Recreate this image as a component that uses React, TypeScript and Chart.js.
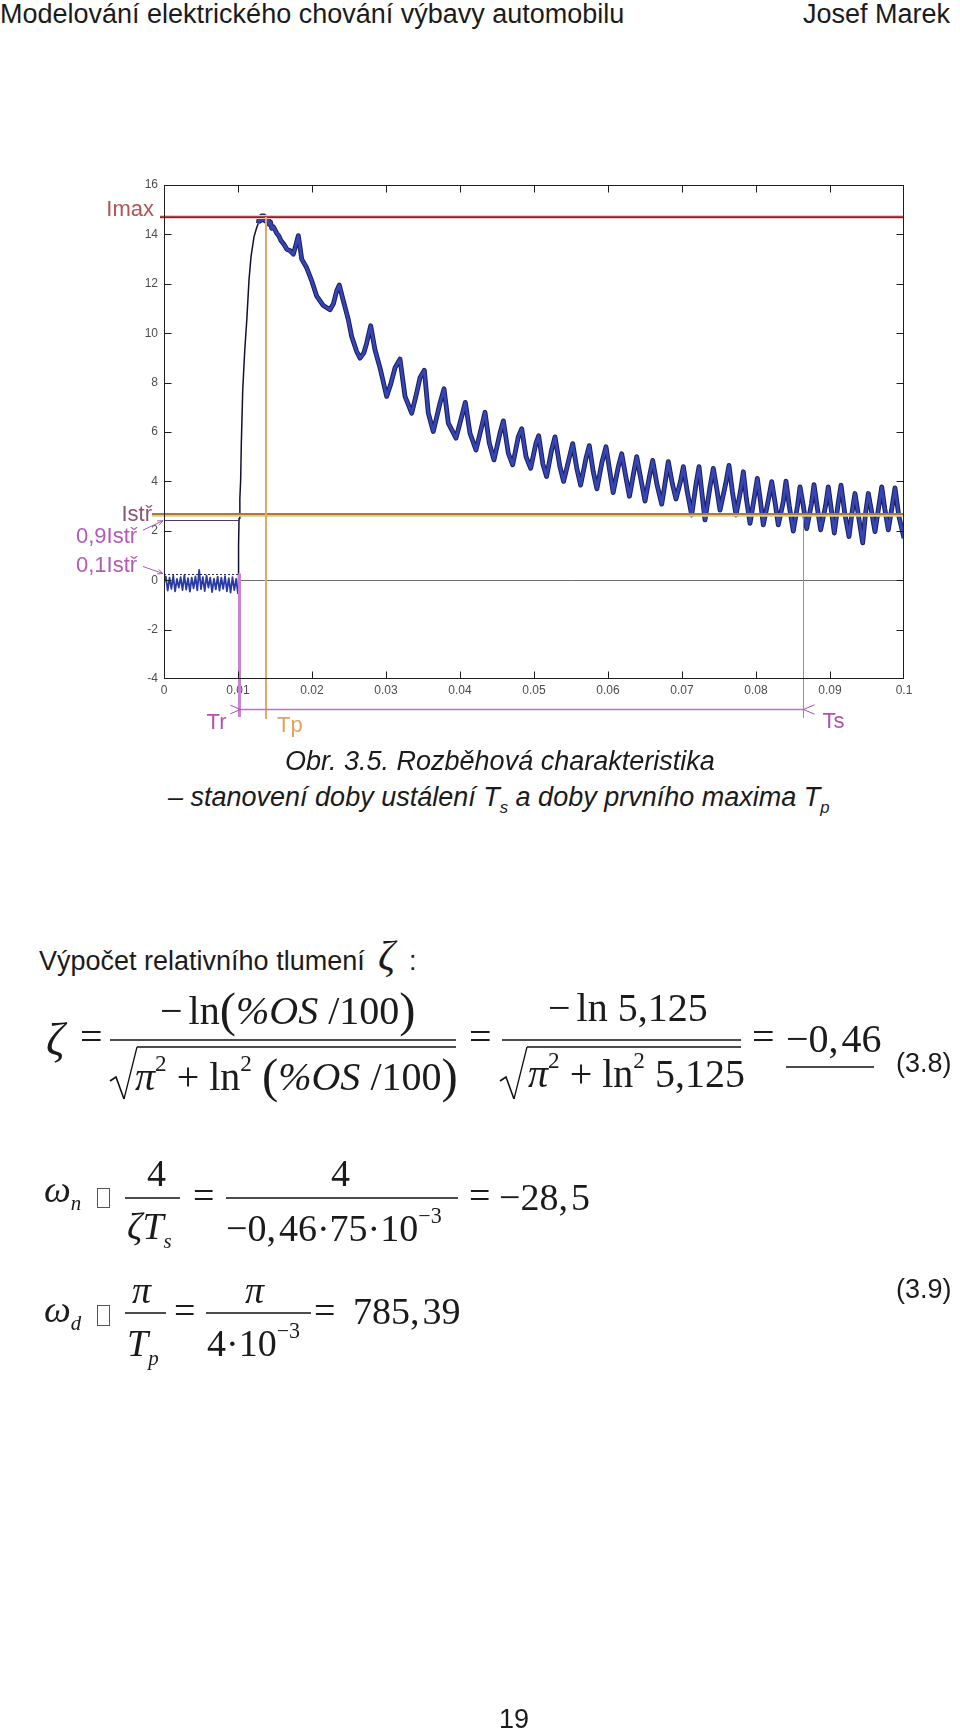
import React, { useEffect, useRef } from "react";
import { Chart, registerables } from "chart.js";

Chart.register(...registerables);

const SANS = '"Liberation Sans", Arial, Helvetica, sans-serif';
const SERIF = '"Liberation Serif", "Times New Roman", Times, serif';

// ---- axis ticks ----
const xTickValues = [0, 0.01, 0.02, 0.03, 0.04, 0.05, 0.06, 0.07, 0.08, 0.09, 0.1];
const xTickLabels = ["0", "0.01", "0.02", "0.03", "0.04", "0.05", "0.06", "0.07", "0.08", "0.09", "0.1"];
const yTickValues = [-4, -2, 0, 2, 4, 6, 8, 10, 12, 14, 16];
const yTickLabels = ["-4", "-2", "0", "2", "4", "6", "8", "10", "12", "14", "16"];

// ---- marker levels (A) and times (s) ----
const levelNames = ["Imax", "Istř", "0,9Istř", "0,1Istř"];
const levelValues = [14.7, 2.68, 2.43, 0.27];
const timeNames = ["Tr", "Tp", "Ts"];
const timeValues = [0.0101, 0.0138, 0.0864];
const tsLineTop = 2.6;

// ---- measured current trace: [time s, current A] ----
const baselineNoise = [
  [0, -0.1], [0.00025, 0.15], [0.0005, -0.42], [0.00075, 0.1], [0.001, -0.35], [0.00125, 0.18],
  [0.0015, -0.45], [0.00175, 0.05], [0.002, -0.3], [0.00225, 0.12], [0.0025, -0.4], [0.00275, 0.2],
  [0.003, -0.38], [0.00325, 0.08], [0.0035, -0.46], [0.00375, 0.1], [0.004, -0.33], [0.00425, 0.15],
  [0.0045, -0.41], [0.00475, 0.42], [0.005, -0.36], [0.00525, 0.12], [0.0055, -0.44], [0.00575, 0.18],
  [0.006, -0.3], [0.00625, 0.1], [0.0065, -0.48], [0.00675, 0.06], [0.007, -0.37], [0.00725, 0.14],
  [0.0075, -0.42], [0.00775, 0.1], [0.008, -0.35], [0.00825, 0.16], [0.0085, -0.45], [0.00875, 0.08],
  [0.009, -0.5], [0.00925, 0.12], [0.0095, -0.4], [0.00975, 0.05], [0.01, -0.55],
];
const riseEdge = [
  [0.01, -0.55], [0.01006, -0.2], [0.01009, 1.4], [0.01014, 2.5], [0.01025, 3.3], [0.01036, 4.06],
  [0.01045, 5.55], [0.01064, 7.7], [0.01091, 9.3], [0.01118, 10.5], [0.01149, 12.17], [0.01176, 13.1],
  [0.01216, 13.9], [0.0125, 14.25], [0.01274, 14.45],
];
const peakPlateau = [
  [0.01274, 14.45], [0.0129, 14.7], [0.01305, 14.55], [0.0132, 14.75], [0.01335, 14.6], [0.0135, 14.75],
  [0.01365, 14.55], [0.0138, 14.7], [0.01395, 14.45], [0.0141, 14.65], [0.01425, 14.4], [0.0144, 14.5],
  [0.01455, 14.25],
];
const decayEarly = [
  [0.0148, 14.3], [0.01523, 14.05], [0.0155, 13.95], [0.0158, 13.75], [0.0162, 13.6], [0.0166, 13.4],
  [0.017, 13.35], [0.01748, 13.2], [0.0178, 13.55], [0.01815, 13.95], [0.0184, 13.45], [0.01861, 13.0],
  [0.01928, 12.65], [0.01996, 12.12], [0.02064, 11.5], [0.02153, 11.12], [0.02243, 10.95], [0.0229, 11.2],
  [0.02334, 11.72], [0.02369, 11.95], [0.02423, 11.32], [0.02491, 10.55], [0.02536, 9.87], [0.02604, 9.26],
  [0.02649, 8.99], [0.027, 9.2], [0.02739, 9.6], [0.02793, 10.3], [0.02851, 9.33], [0.02919, 8.6],
  [0.03009, 7.44], [0.0306, 7.9], [0.03122, 8.6], [0.03189, 8.95], [0.03257, 7.44], [0.03347, 6.76],
  [0.034, 7.4], [0.0346, 8.2], [0.03518, 8.5], [0.03572, 6.76], [0.03639, 6.02], [0.0373, 7.17],
  [0.03784, 7.75], [0.03842, 6.36], [0.03946, 5.75], [0.04023, 6.63], [0.04072, 7.2], [0.04135, 5.95],
  [0.04216, 5.27], [0.04293, 6.22], [0.04338, 6.8], [0.04396, 5.55], [0.04459, 4.87], [0.0454, 5.95],
  [0.04586, 6.45], [0.04653, 5.14], [0.04712, 4.67], [0.04788, 5.81], [0.04834, 6.13], [0.04892, 5.0],
  [0.04955, 4.53], [0.05027, 5.55], [0.05063, 5.85],
];
const decayLate = [
  [0.0512, 4.7], [0.0517, 4.2], [0.0524, 5.3], [0.05284, 5.8], [0.0535, 4.6], [0.054, 4.0],
  [0.0548, 5.0], [0.05523, 5.53], [0.0558, 4.5], [0.0563, 3.85], [0.057, 4.9], [0.05747, 5.45],
  [0.058, 4.4], [0.0585, 3.7], [0.0592, 4.8], [0.05973, 5.4], [0.0603, 4.3], [0.0607, 3.55],
  [0.0614, 4.6], [0.06185, 5.12], [0.0624, 4.2], [0.0629, 3.4], [0.0635, 4.4], [0.06388, 5.0],
  [0.0645, 4.0], [0.065, 3.2], [0.0656, 4.2], [0.06604, 4.85], [0.0666, 3.9], [0.06726, 3.08],
  [0.0678, 4.1], [0.06815, 4.8], [0.0687, 3.9], [0.06919, 3.29], [0.0698, 4.0], [0.07018, 4.6],
  [0.0707, 3.6], [0.07131, 2.64], [0.0719, 3.9], [0.0723, 4.6], [0.0727, 3.5], [0.07311, 2.44],
  [0.0738, 3.8], [0.07423, 4.53], [0.0747, 3.7], [0.07514, 2.84], [0.0759, 3.9], [0.07635, 4.65],
  [0.0768, 3.6], [0.0773, 2.64], [0.0779, 3.6], [0.07829, 4.39], [0.0787, 3.3], [0.07919, 2.3],
  [0.0798, 3.4], [0.08018, 4.12], [0.0806, 3.2], [0.08099, 2.24], [0.0817, 3.3], [0.08212, 3.99],
  [0.0826, 3.1], [0.08301, 2.24], [0.0837, 3.2], [0.08405, 4.01], [0.0845, 3.0], [0.08504, 1.99],
  [0.0856, 3.0], [0.08595, 3.78], [0.0864, 3.0], [0.08685, 2.09], [0.0875, 3.1], [0.08784, 3.87],
  [0.0883, 2.9], [0.08874, 2.04], [0.0894, 3.0], [0.08977, 3.78], [0.0902, 2.8], [0.09058, 1.91],
  [0.0911, 3.1], [0.09149, 3.85], [0.092, 2.7], [0.09257, 1.77], [0.093, 2.8], [0.09338, 3.51],
  [0.0939, 2.5], [0.09442, 1.51], [0.0948, 2.7], [0.09518, 3.51], [0.0956, 2.8], [0.09608, 1.97],
  [0.0966, 3.0], [0.09699, 3.78], [0.0974, 2.9], [0.09788, 2.04], [0.0984, 3.0], [0.09878, 3.74],
  [0.0993, 2.6], [0.1, 1.7],
];

const toXY = (seg: number[][]) => seg.map(([t, i]) => ({ x: t, y: i }));

function strokeLine(ctx: any, x1: number, y1: number, x2: number, y2: number, color: string, w: number) {
  ctx.strokeStyle = color;
  ctx.lineWidth = w;
  ctx.beginPath();
  ctx.moveTo(x1, y1);
  ctx.lineTo(x2, y2);
  ctx.stroke();
}
function arrowHead(ctx: any, tipX: number, tipY: number, fromX: number, fromY: number, color: string, len = 7) {
  const ang = Math.atan2(tipY - fromY, tipX - fromX);
  ctx.strokeStyle = color;
  ctx.lineWidth = 1;
  ctx.beginPath();
  ctx.moveTo(tipX - len * Math.cos(ang - 0.4), tipY - len * Math.sin(ang - 0.4));
  ctx.lineTo(tipX, tipY);
  ctx.lineTo(tipX - len * Math.cos(ang + 0.4), tipY - len * Math.sin(ang + 0.4));
  ctx.stroke();
}

const markerPlugin = {
  id: "startupMarkers",
  beforeDatasetsDraw(chart: any) {
    const { ctx, chartArea: a } = chart;
    const X = (v: number) => chart.scales.x.getPixelForValue(v);
    const Y = (v: number) => chart.scales.y.getPixelForValue(v);
    ctx.save();
    const yz = Math.round(Y(0)) + 0.5;
    strokeLine(ctx, X(timeValues[0]), yz, a.right, yz, "#6c6c6c", 1);
    ctx.restore();
  },
  afterDatasetsDraw(chart: any) {
    const { ctx, chartArea: a } = chart;
    const X = (v: number) => chart.scales.x.getPixelForValue(v);
    const Y = (v: number) => chart.scales.y.getPixelForValue(v);
    const [imax, istr, i09, i01] = levelValues;
    const [tr, tp, ts] = timeValues;
    const xr = Math.round(X(tr)) + 0.5;
    const xp = Math.round(X(tp));
    const xs = Math.round(X(ts)) + 0.5;
    ctx.save();
    // Imax
    strokeLine(ctx, a.left - 4, Y(imax), a.right, Y(imax), "#f4c8c8", 4);
    strokeLine(ctx, a.left - 4, Y(imax), a.right, Y(imax), "#8e1f1f", 1.6);
    // Istr
    strokeLine(ctx, a.left - 12, Y(istr) + 1.5, a.right, Y(istr) + 1.5, "#c9d58f", 2.5);
    strokeLine(ctx, a.left - 12, Y(istr), a.right, Y(istr), "#b27832", 2);
    // 0.9 Istr
    strokeLine(ctx, a.left, Math.round(Y(i09)) + 0.5, xr, Math.round(Y(i09)) + 0.5, "#4a3a6a", 1);
    // 0.1 Istr dotted
    ctx.setLineDash([2, 2]);
    strokeLine(ctx, a.left, Math.round(Y(i01)) + 0.5, xr, Math.round(Y(i01)) + 0.5, "#2a2a4a", 1);
    ctx.setLineDash([]);
    // verticals
    strokeLine(ctx, xr, Y(i01), xr, a.bottom + 38, "#c983d2", 3);
    strokeLine(ctx, xp, Y(imax), xp, a.bottom + 40, "#e6a862", 2);
    strokeLine(ctx, xs, Y(tsLineTop), xs, a.bottom + 39, "#b878be", 1);
    // dimension line
    const yd = a.bottom + 30.5;
    strokeLine(ctx, xr, yd, xs, yd, "#c070c8", 1.5);
    arrowHead(ctx, xr + 1, yd, xr - 20, yd, "#a050a8", 11);
    arrowHead(ctx, xs, yd, xs + 20, yd, "#a050a8", 12);
    // label arrows
    arrowHead(ctx, a.left - 1, Y(i09) + 0.5, a.left - 21, Y(i09) + 10, "#a060b0", 6);
    strokeLine(ctx, a.left - 21, Y(i09) + 10, a.left - 1, Y(i09) + 0.5, "#a060b0", 1);
    arrowHead(ctx, a.left - 1, Y(i01), a.left - 21, Y(i01) - 7, "#a060b0", 6);
    strokeLine(ctx, a.left - 21, Y(i01) - 7, a.left - 1, Y(i01), "#a060b0", 1);
    // labels
    ctx.font = "22px " + SANS;
    ctx.textBaseline = "middle";
    ctx.textAlign = "right";
    ctx.fillStyle = "#b5524f";
    ctx.fillText(levelNames[0], a.left - 10, Y(imax) - 7);
    ctx.fillStyle = "#8e5272";
    ctx.fillText(levelNames[1], a.left - 12, Y(istr) + 1);
    ctx.textAlign = "left";
    ctx.fillStyle = "#b35ab9";
    ctx.fillText(levelNames[2], a.left - 88, Y(i09) + 17);
    ctx.fillText(levelNames[3], a.left - 88, Y(i01) - 8);
    ctx.textAlign = "right";
    ctx.fillStyle = "#b450b4";
    ctx.fillText(timeNames[0], xr - 13, a.bottom + 44);
    ctx.textAlign = "left";
    ctx.fillStyle = "#dfa35b";
    ctx.fillText(timeNames[1], xp + 11, a.bottom + 47);
    ctx.fillStyle = "#b450b4";
    ctx.fillText(timeNames[2], xs + 19, a.bottom + 43);
    ctx.restore();
  },
  afterDraw(chart: any) {
    const { ctx, chartArea: a } = chart;
    const X = (v: number) => chart.scales.x.getPixelForValue(v);
    const Y = (v: number) => chart.scales.y.getPixelForValue(v);
    ctx.save();
    ctx.strokeStyle = "#1e1e1e";
    ctx.lineWidth = 1;
    const l = Math.round(a.left) + 0.5, r = Math.round(a.right) - 0.5;
    const t = Math.round(a.top) + 0.5, b = Math.round(a.bottom) - 0.5;
    ctx.strokeRect(l, t, r - l, b - t);
    ctx.beginPath();
    xTickValues.slice(1, -1).forEach((v) => {
      const px = Math.round(X(v)) + 0.5;
      ctx.moveTo(px, b); ctx.lineTo(px, b - 7);
      ctx.moveTo(px, t); ctx.lineTo(px, t + 7);
    });
    yTickValues.slice(1, -1).forEach((v) => {
      const py = Math.round(Y(v)) + 0.5;
      ctx.moveTo(l, py); ctx.lineTo(l + 7, py);
      ctx.moveTo(r, py); ctx.lineTo(r - 7, py);
    });
    ctx.stroke();
    ctx.restore();
  },
};

function CurrentChart() {
  const ref = useRef<HTMLCanvasElement | null>(null);
  useEffect(() => {
    const traceMain = [...toXY(peakPlateau), ...toXY(decayEarly), ...toXY(decayLate)];
    const chart = new Chart(ref.current as HTMLCanvasElement, {
      type: "line",
      data: {
        datasets: [
          { data: traceMain, borderColor: "#3545b5", borderWidth: 2.8, borderJoinStyle: "round", order: 0 } as any,
          { data: traceMain, borderColor: "#1a1f5c", borderWidth: 4.8, borderJoinStyle: "round", order: 1 } as any,
          { data: toXY(baselineNoise), borderColor: "#2b3ba6", borderWidth: 1.8, borderJoinStyle: "round", order: 2 } as any,
          { data: toXY(riseEdge), borderColor: "#111133", borderWidth: 1.5, borderJoinStyle: "round", order: 3 } as any,
        ],
      },
      options: {
        animation: false,
        responsive: false,
        maintainAspectRatio: false,
        devicePixelRatio: 1,
        layout: { padding: { left: 0, right: 56, top: 15, bottom: 46 } },
        plugins: { legend: { display: false }, tooltip: { enabled: false } },
        elements: { point: { radius: 0 }, line: { tension: 0 } },
        scales: {
          x: {
            type: "linear",
            min: 0,
            max: 0.1,
            afterBuildTicks: (s: any) => { s.ticks = xTickValues.map((v) => ({ value: v })); },
            afterFit: (s: any) => { s.height = 25; },
            grid: { display: false, drawTicks: false },
            border: { display: false },
            ticks: {
              padding: 4,
              autoSkip: false,
              maxRotation: 0,
              color: "#4d4d4d",
              font: { family: SANS, size: 12 },
              callback: (_v: any, i: number) => xTickLabels[i],
            },
          },
          y: {
            type: "linear",
            min: -4,
            max: 16,
            afterBuildTicks: (s: any) => { s.ticks = yTickValues.map((v) => ({ value: v })); },
            afterFit: (s: any) => { s.width = 164; },
            grid: { display: false, drawTicks: false },
            border: { display: false },
            ticks: {
              padding: 6,
              autoSkip: false,
              color: "#4d4d4d",
              font: { family: SANS, size: 12 },
              callback: (_v: any, i: number) => yTickLabels[i],
            },
          },
        },
      } as any,
      plugins: [markerPlugin],
    });
    return () => chart.destroy();
  }, []);
  return (
    <canvas
      ref={ref}
      width={960}
      height={580}
      style={{ position: "absolute", left: 0, top: 170, width: 960, height: 580 }}
    />
  );
}

// ---- page text helpers ----
function Txt({ x, y, size, family = SANS, italic = false, color = "#1b1b1b", children }: any) {
  return (
    <span
      style={{
        position: "absolute",
        left: x,
        top: y - size * 0.5,
        fontSize: size,
        lineHeight: `${size}px`,
        fontFamily: family,
        fontStyle: italic ? "italic" : "normal",
        color,
        whiteSpace: "nowrap",
      }}
    >
      {children}
    </span>
  );
}
const Sup = ({ children }: any) => (
  <span style={{ fontSize: "0.58em", position: "relative", top: "-0.8em" }}>{children}</span>
);
const Sub = ({ children, drop = "0.45em", size = "0.62em" }: any) => (
  <span style={{ fontSize: size, position: "relative", top: drop }}>{children}</span>
);
const I = ({ children }: any) => <span style={{ fontStyle: "italic" }}>{children}</span>;
const Big = ({ children }: any) => (
  <span style={{ fontSize: "1.22em", position: "relative", top: "0.05em" }}>{children}</span>
);
const Eq = ({ x, cy, size }: any) => <Txt x={x} y={cy - 0.0875 * size} size={size} family={SERIF}>=</Txt>;

function Radical({ x, top, bottom, right }: any) {
  const hookY = bottom - 22;
  return (
    <g fill="none" stroke="#111" strokeLinejoin="miter">
      <polyline points={`${x - 6},${hookY + 4} ${x},${hookY} ${x + 8},${bottom}`} strokeWidth={1.6} />
      <line x1={x + 8} y1={bottom} x2={x + 21} y2={top} strokeWidth={1.3} />
      <line x1={x + 21} y1={top} x2={right} y2={top} strokeWidth={1.5} />
    </g>
  );
}

const Box = ({ x, y, w, h }: any) => (
  <span style={{ position: "absolute", left: x, top: y, width: w, height: h, border: "1px solid #555", boxSizing: "border-box" }} />
);

export default function App() {
  const M1 = 40;
  const M2 = 38;
  return (
    <div style={{ position: "absolute", left: 0, top: 0, width: 960, height: 1730, background: "#fff", overflow: "hidden" }}>
      {/* header */}
      <Txt x={0} y={14} size={27}>Modelování elektrického chování výbavy automobilu</Txt>
      <Txt x={803} y={14} size={27}>Josef Marek</Txt>

      <CurrentChart />

      {/* caption */}
      <Txt x={285} y={761} size={27} italic>Obr. 3.5. Rozběhová charakteristika</Txt>
      <Txt x={168} y={797} size={27} italic>
        – stanovení doby ustálení T<Sub>s</Sub> a doby prvního maxima T<Sub>p</Sub>
      </Txt>

      {/* damping computation */}
      <Txt x={39} y={961} size={27}>Výpočet relativního tlumení</Txt>
      <Txt x={378} y={956} size={42} family={SERIF} italic>ζ</Txt>
      <Txt x={409} y={961} size={27}>:</Txt>

      <svg width={960} height={1730} style={{ position: "absolute", left: 0, top: 0 }}>
        <g stroke="#111" strokeWidth={1.6}>
          <line x1={110} y1={1040} x2={456} y2={1040} />
          <line x1={502} y1={1040} x2={741} y2={1040} />
          <line x1={786} y1={1067} x2={874} y2={1067} />
          <line x1={125} y1={1198} x2={180} y2={1198} />
          <line x1={226} y1={1198} x2={458} y2={1198} />
          <line x1={125} y1={1313} x2={166} y2={1313} />
          <line x1={206} y1={1313} x2={311} y2={1313} />
        </g>
        <Radical x={116} top={1047} bottom={1099} right={456} />
        <Radical x={506} top={1047} bottom={1099} right={741} />
      </svg>

      {/* (3.8) */}
      <Txt x={46} y={1040} size={46} family={SERIF} italic>ζ</Txt>
      <Eq x={80} cy={1040} size={M1} />
      <Txt x={160} y={1008} size={M1} family={SERIF}>
        −<span style={{ marginLeft: 6 }}>ln</span><Big>(</Big><I>%OS</I> /100<Big>)</Big>
      </Txt>
      <Txt x={135} y={1074} size={M1} family={SERIF}>
        <I>π</I><Sup>2</Sup> + ln<Sup>2</Sup> <Big>(</Big><I>%OS</I> /100<Big>)</Big>
      </Txt>
      <Eq x={469} cy={1040} size={M1} />
      <Txt x={548} y={1008} size={M1} family={SERIF}>
        −<span style={{ marginLeft: 6 }}>ln</span> 5,125
      </Txt>
      <Txt x={528} y={1074} size={M1} family={SERIF}>
        <I>π</I><Sup>2</Sup> + ln<Sup>2</Sup> 5,125
      </Txt>
      <Eq x={752} cy={1040} size={M1} />
      <Txt x={786} y={1039} size={M1} family={SERIF}>−0,<span style={{ marginLeft: 3 }}>46</span></Txt>
      <Txt x={896} y={1063} size={27}>(3.8)</Txt>

      {/* (3.9) */}
      <Txt x={44} y={1189} size={M2} family={SERIF} italic>
        ω<Sub size="0.55em" drop="0.4em">n</Sub>
      </Txt>
      <Box x={97} y={1188} w={13} h={20} />
      <Txt x={147} y={1173} size={M2} family={SERIF}>4</Txt>
      <Txt x={127} y={1226} size={M2} family={SERIF} italic>
        ζT<Sub size="0.55em" drop="0.45em">s</Sub>
      </Txt>
      <Eq x={193} cy={1198} size={M2} />
      <Txt x={331} y={1173} size={M2} family={SERIF}>4</Txt>
      <Txt x={226} y={1228} size={M2} family={SERIF}>
        −0,<span style={{ marginLeft: 3 }}>46</span>·75·10<Sup>−3</Sup>
      </Txt>
      <Eq x={469} cy={1198} size={M2} />
      <Txt x={499} y={1197} size={M2} family={SERIF}>−28,<span style={{ marginLeft: 3 }}>5</span></Txt>

      <Txt x={44} y={1309} size={M2} family={SERIF} italic>
        ω<Sub size="0.55em" drop="0.4em">d</Sub>
      </Txt>
      <Box x={97} y={1305} w={13} h={21} />
      <Txt x={132} y={1290} size={M2} family={SERIF} italic>π</Txt>
      <Txt x={127} y={1343} size={M2} family={SERIF} italic>
        T<Sub size="0.55em" drop="0.45em">p</Sub>
      </Txt>
      <Eq x={174} cy={1313} size={M2} />
      <Txt x={245} y={1290} size={M2} family={SERIF} italic>π</Txt>
      <Txt x={207} y={1343} size={M2} family={SERIF}>
        4·10<Sup>−3</Sup>
      </Txt>
      <Eq x={314} cy={1313} size={M2} />
      <Txt x={353} y={1311} size={M2} family={SERIF}>785,<span style={{ marginLeft: 3 }}>39</span></Txt>
      <Txt x={896} y={1289} size={27}>(3.9)</Txt>

      {/* page number */}
      <Txt x={499} y={1719} size={27}>19</Txt>
    </div>
  );
}
